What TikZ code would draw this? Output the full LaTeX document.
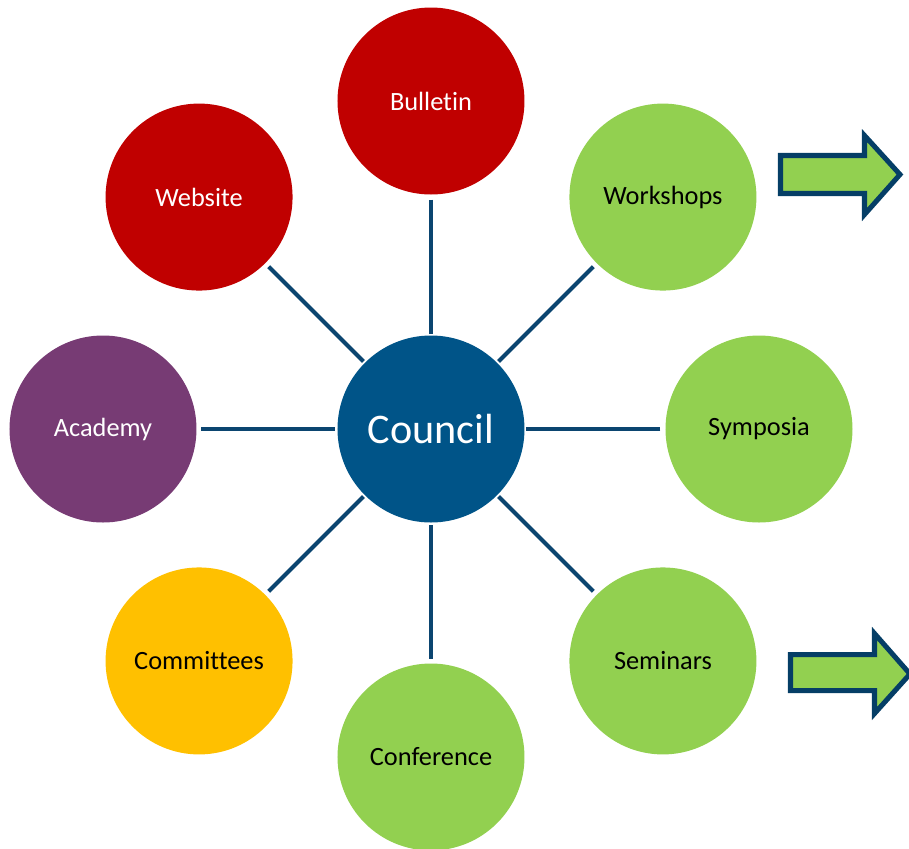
\documentclass[tikz,border=0pt]{standalone}
\usepackage{fontspec}
\setmainfont{Carlito}[Ligatures={NoCommon}]
\definecolor{councilblue}{HTML}{005488}
\definecolor{spokeblue}{HTML}{0B4570}
\definecolor{bulletred}{HTML}{C00000}
\definecolor{leafgreen}{HTML}{92D050}
\definecolor{academypurple}{HTML}{773B74}
\definecolor{committeeyellow}{HTML}{FFC000}
\definecolor{arrownavy}{HTML}{053E66}

\begin{document}
\begin{tikzpicture}[
  hub/.style={circle, fill=councilblue, text=white, minimum size=3.74cm,
    inner sep=0pt, outer sep=0pt, font=\fontsize{24}{28}\selectfont},
  topic/.style={circle, minimum size=3.74cm, inner sep=0pt, outer sep=0pt,
    font=\fontsize{15}{18}\selectfont},
  spoke/.style={draw=spokeblue, line width=2.4pt, shorten <=0.1cm, shorten >=0.04cm},
  blockarrow/.style={fill=leafgreen, draw=arrownavy, line width=2.85pt, line join=miter}]
\clip (-8.62,-8.38) rectangle (9.56,8.58);

\node[hub] (council) at (0,0) {Council};
\node[topic, fill=bulletred, text=white] (bulletin) at (90:6.56) {Bulletin};
\node[topic, fill=bulletred, text=white] (website) at (135:6.56) {Website};
\node[topic, fill=leafgreen] (workshops) at (45:6.56) {Workshops};
\node[topic, fill=academypurple, text=white] (academy) at (180:6.56) {Academy};
\node[topic, fill=leafgreen] (symposia) at (0:6.56) {Symposia};
\node[topic, fill=committeeyellow] (committees) at (225:6.56) {Committees};
\node[topic, fill=leafgreen] (seminars) at (315:6.56) {Seminars};
\node[topic, fill=leafgreen] (conference) at (270:6.56) {Conference};

\foreach \n in {bulletin,website,workshops,academy,symposia,committees,seminars,conference}
  \draw[spoke] (\n) -- (council);

% arrows on the right
\draw[blockarrow] (6.99,5.47) -- (8.67,5.47) -- (8.67,5.87) -- (9.38,5.09)
  -- (8.67,4.29) -- (8.67,4.71) -- (6.99,4.71) -- cycle;
\draw[blockarrow] (7.19,-4.51) -- (8.87,-4.51) -- (8.87,-4.09) -- (9.58,-4.90)
  -- (8.87,-5.69) -- (8.87,-5.23) -- (7.19,-5.23) -- cycle;
\end{tikzpicture}
\end{document}
